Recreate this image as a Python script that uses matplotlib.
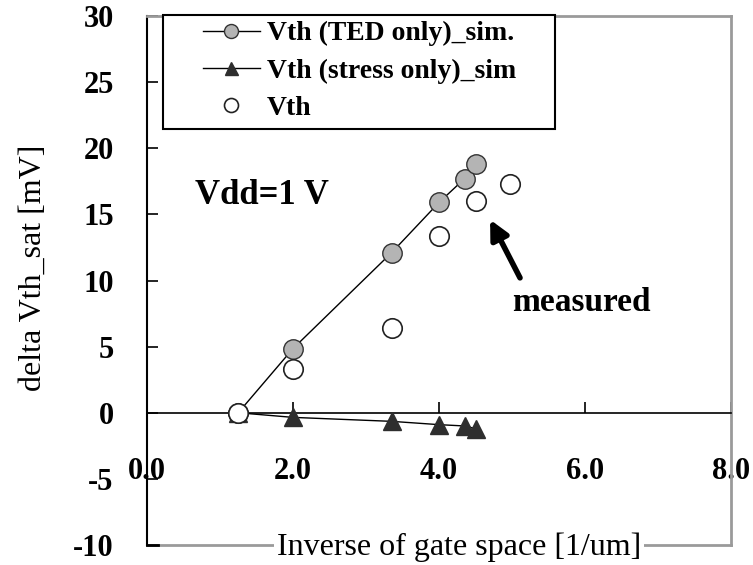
import matplotlib
matplotlib.use("Agg")
import matplotlib.pyplot as plt
from matplotlib.patches import Rectangle

plt.rcParams["font.family"] = ["Liberation Serif", "DejaVu Serif"]
plt.rcParams["axes.unicode_minus"] = False

# inverse of gate space [1/um]
x_sim = [1.25, 2.0, 3.35, 4.0, 4.35, 4.5]
ted_only = [0.0, 4.85, 12.1, 15.9, 17.7, 18.8]
stress_only = [0.0, -0.35, -0.65, -0.9, -1.0, -1.2]

x_meas = [1.25, 2.0, 3.35, 4.0, 4.5, 4.97]
vth_meas = [0.0, 3.3, 6.4, 13.4, 16.0, 17.3]

x_ticks = [0, 2, 4, 6, 8]
x_ticklabels = ["0.0", "2.0", "4.0", "6.0", "8.0"]
y_ticks = [-10, -5, 0, 5, 10, 15, 20, 25, 30]

W, H = 753, 565
fig = plt.figure(figsize=(W / 100, H / 100), dpi=100)
ax = fig.add_axes([147 / W, 1 - 545 / H, (731 - 147) / W, (545 - 16) / H])
ax.set_xlim(0, 8)
ax.set_ylim(-10, 30)

ax.plot(x_sim, ted_only, "-o", color="black", lw=1.0, ms=14,
        mfc="#b4b4b4", mec="#333333", mew=1.0, zorder=3,
        label="Vth (TED only)_sim.")
ax.plot(x_sim, stress_only, "-^", color="black", lw=1.0, ms=13,
        mfc="#2e2e2e", mec="#2e2e2e", zorder=3,
        label="Vth (stress only)_sim")
ax.plot(x_meas, vth_meas, "o", ls="none", ms=14, mfc="white",
        mec="#222222", mew=1.2, zorder=4, label="Vth")

# frame: x axis runs through zero, box drawn around
ax.spines["bottom"].set_position(("data", 0))
ax.spines["bottom"].set_linewidth(1.2)
ax.spines["left"].set_linewidth(1.5)
for s in ("top", "right"):
    ax.spines[s].set_color("#9a9a9a")
    ax.spines[s].set_linewidth(2.0)
ax.plot([0, 8], [-10, -10], color="#9a9a9a", lw=2.0, clip_on=False, zorder=2)
ax.plot([0, 0.15], [-10, -10], color="black", lw=2.0, clip_on=False, zorder=2)

ax.set_xticks(x_ticks)
ax.set_xticklabels(x_ticklabels)
ax.set_yticks(y_ticks)
ax.tick_params(axis="x", direction="in", length=8, width=1.2, pad=32,
               labelsize=22)
ax.tick_params(axis="y", direction="in", length=8, width=1.2, pad=24,
               labelsize=22)
for lab in ax.get_xticklabels() + ax.get_yticklabels():
    lab.set_fontweight("bold")

ax.text(4.27, -10.15, "Inverse of gate space [1/um]", fontsize=23,
        ha="center", va="center", zorder=6, clip_on=False,
        bbox=dict(facecolor="white", edgecolor="none", pad=2))
fig.text(33 / W, 1 - 268 / H, "delta Vth_sat [mV]", fontsize=23,
         rotation=90, ha="center", va="center")

ax.text(0.66, 16.4, "Vdd=1 V", fontsize=25, fontweight="bold",
        ha="left", va="center")
ax.text(5.95, 8.33, "measured", fontsize=24, fontweight="bold",
        ha="center", va="center")
ax.annotate("", xy=(4.70, 14.6), xytext=(5.11, 10.2),
            arrowprops=dict(arrowstyle="-|>", lw=4, color="black",
                            mutation_scale=28, shrinkA=0, shrinkB=0))

# legend box
ax.add_patch(Rectangle((163 / W, 1 - 129 / H), (555 - 163) / W, (129 - 15) / H,
                       transform=fig.transFigure, facecolor="white",
                       edgecolor="black", lw=1.5, clip_on=False, zorder=4))
leg = ax.legend(loc="upper left", bbox_to_anchor=(203 / W, 1 - 21 / H),
                bbox_transform=fig.transFigure, frameon=False,
                borderpad=0, borderaxespad=0, handlelength=2.05,
                handletextpad=0.25, labelspacing=0.42, markerscale=0.72,
                prop=dict(size=20, weight="bold"))
leg.set_zorder(5)

fig.savefig("out.png", dpi=100)
